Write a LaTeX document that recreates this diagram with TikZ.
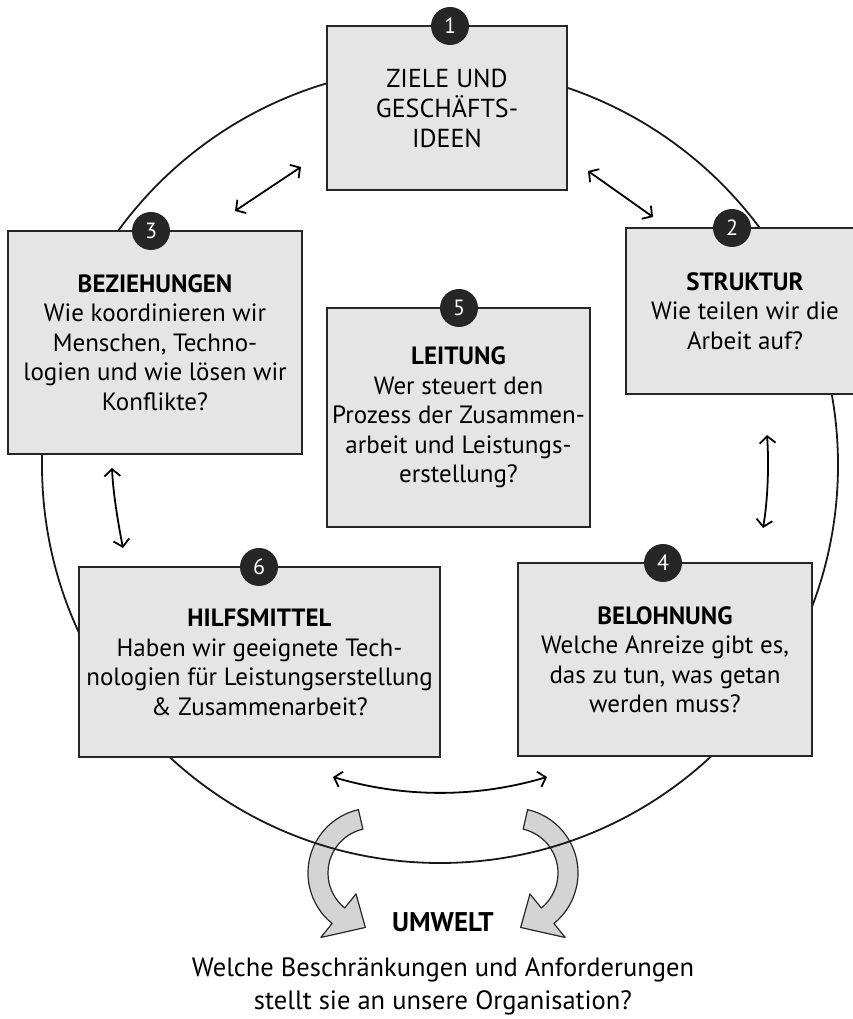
\documentclass[tikz,border=0pt]{standalone}
\usepackage{fontspec}
\setmainfont{PT Sans}
\usetikzlibrary{arrows.meta}
\begin{document}
\begin{tikzpicture}[x=1pt,y=1pt,
  box/.style={draw=black!85, line width=1.7pt, fill=black!10, align=center, inner sep=0pt,
              font=\fontsize{25}{29.5}\selectfont},
  num/.style={circle, fill=black!85, text=white, minimum size=38pt, inner sep=0pt,
              font=\fontsize{22}{22}\selectfont},
  link/.style={line width=1.8pt, {Straight Barb[length=7pt,width=16pt]}-{Straight Barb[length=7pt,width=16pt]}},
  ring/.style={line width=1.8pt, draw=black!90},
  bigarrow/.style={draw=black!85, line width=1.2pt, fill=black!17, line join=round},
  caption/.style={align=center, font=\fontsize{26.5}{33}\selectfont}]
\useasboundingbox (0,0) rectangle (853,1019);

% big curved arrows (environment)
\coordinate (L) at (373,146);
\coordinate (R) at (513,146);
\draw[bigarrow] ([shift={(103:65)}]L) arc[start angle=103, end angle=231, radius=65]
  -- ([shift={(231:83)}]L) -- ([shift={(262:55)}]L) -- ([shift={(231:27)}]L)
  -- ([shift={(231:45)}]L) arc[start angle=231, end angle=103, radius=45] -- cycle;
\draw[bigarrow] ([shift={(77:65)}]R) arc[start angle=77, end angle=-51, radius=65]
  -- ([shift={(-51:83)}]R) -- ([shift={(-82:55)}]R) -- ([shift={(-51:27)}]R)
  -- ([shift={(-51:45)}]R) arc[start angle=-51, end angle=77, radius=45] -- cycle;

% ring
\coordinate (C) at (440,554);
\draw[ring] (C) circle[radius=398];

% boxes
\node[box, minimum width=240pt, minimum height=164pt, font=\fontsize{26}{30}\selectfont] (b1) at (447,911)
  {ZIELE UND\\GESCHÄFTS-\\IDEEN};
\node[box, minimum width=238pt, minimum height=166pt] (b2) at (745,708)
  {\textbf{STRUKTUR}\\Wie teilen wir die\\Arbeit auf?};
\node[box, minimum width=294pt, minimum height=223pt] (b3) at (155,676.5)
  {\textbf{BEZIEHUNGEN}\\Wie koordinieren wir\\Menschen, Techno-\\logien und wie lösen wir\\Konflikte?};
\node[box, minimum width=263pt, minimum height=219pt] (b5) at (458.5,601.5)
  {\textbf{LEITUNG}\\Wer steuert den\\Prozess der Zusammen-\\arbeit und Leistungs-\\erstellung?};
\node[box, minimum width=361pt, minimum height=190pt] (b6) at (259.5,357)
  {\textbf{HILFSMITTEL}\\Haben wir geeignete Tech-\\nologien für Leistungserstellung\\\& Zusammenarbeit?};
\node[box, minimum width=294pt, minimum height=193pt] (b4) at (665,359.5)
  {\textbf{BELOHNUNG}\\Welche Anreize gibt es,\\das zu tun, was getan\\werden muss?};

% number badges
\node[num] (n1) at (450,993) {1};
\node[num] (n2) at (732,791) {2};
\node[num] (n3) at (151,788) {3};
\node[num] (n5) at (459,711) {5};
\node[num] (n6) at (259,452) {6};
\node[num] (n4) at (663,456) {4};

% double arrows
\coordinate (a13s) at (235,808); \coordinate (a13e) at (301,852);
\coordinate (a12s) at (588,848); \coordinate (a12e) at (653,802);
\coordinate (a36s) at (112,551); \coordinate (a36e) at (123,471);
\coordinate (a24s) at (767,584); \coordinate (a24e) at (763,491);
\coordinate (a64s) at (333,242); \coordinate (a64e) at (547,242);
\draw[link] (a13s) -- (a13e);
\draw[link] (a12s) -- (a12e);
\draw[link] (a36s) .. controls (113,527) and (118,496) .. (a36e);
\draw[link] (a24s) .. controls (769,556) and (768,520) .. (a24e);
\draw[link] (a64s) .. controls (404,221) and (476,221) .. (a64e);

% environment text
\node[font=\fontsize{27}{27}\selectfont\bfseries] (umw) at (443,97) {UMWELT};
\node[caption] (q) at (443,32.5) {Welche Beschränkungen und Anforderungen\\stellt sie an unsere Organisation?};
\end{tikzpicture}
\end{document}
